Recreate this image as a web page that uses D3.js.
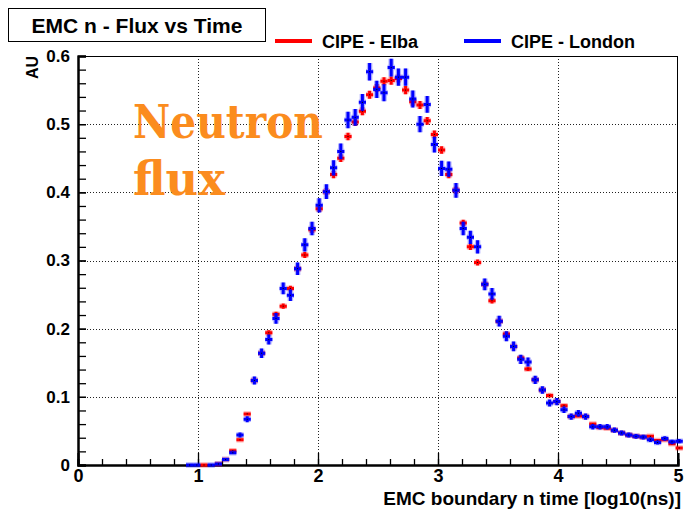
<!DOCTYPE html>
<html>
<head>
<meta charset="utf-8">
<script src="https://cdn.jsdelivr.net/npm/d3@7"></script>
<style>
  html, body { margin: 0; padding: 0; background: #fff; }
  svg { display: block; }
</style>
</head>
<body>
<svg id="chart" width="684" height="511"></svg>
<script>
// ---- data (bin centres in log10(ns), values in AU) ----
const binCenters = [0.93,0.99,1.05,1.11,1.17,1.23,1.29,1.35,1.41,1.47,1.53,1.59,1.65,1.71,1.77,1.83,1.89,1.95,
  2.01,2.07,2.13,2.19,2.25,2.31,2.37,2.43,2.49,2.55,2.61,2.67,2.73,2.79,2.85,2.91,2.97,
  3.03,3.09,3.15,3.21,3.27,3.33,3.39,3.45,3.51,3.57,3.63,3.69,3.75,3.81,3.87,3.93,3.99,
  4.05,4.11,4.17,4.23,4.29,4.35,4.41,4.47,4.53,4.59,4.65,4.71,4.77,4.83,4.89,4.95,5.01];
const elba = [null,null,0,null,0.0015,0.008,0.021,0.037,0.075,0.124,0.164,0.194,0.221,0.233,0.259,0.288,0.308,0.345,
  0.376,0.401,0.426,0.450,0.482,0.503,0.519,0.543,0.553,0.563,0.564,0.567,0.550,0.533,0.528,0.505,0.485,
  0.462,0.426,0.403,0.355,0.320,0.297,0.265,0.241,0.211,0.192,0.174,0.157,0.141,0.125,0.110,0.102,0.093,
  0.087,0.071,0.072,0.071,0.060,0.055,0.054,0.051,0.047,0.044,0.042,0.041,0.042,0.036,0.037,0.031,0.025];
const london = [0,0,null,0,0.0015,0.008,0.018,0.044,0.067,0.124,0.164,0.184,0.215,0.259,0.249,0.288,0.323,0.347,
  0.381,0.401,0.436,0.460,0.506,0.510,0.532,0.577,0.551,0.546,0.583,0.569,0.569,0.537,0.500,0.529,0.470,
  0.435,0.434,0.403,0.347,0.334,0.320,0.265,0.251,0.211,0.189,0.174,0.155,0.151,0.125,0.110,0.091,0.093,
  0.081,0.071,0.076,0.071,0.056,0.056,0.056,0.051,0.047,0.044,0.042,0.041,0.037,0.033,0.039,0.034,0.035];
const binWidth = 0.06;
// statistical error scale (error ~ k * sqrt(value))
const elbaErrScale = 0.008;
const londonErrScale = 0.017;

const seriesNames = ["CIPE - Elba", "CIPE - London"];
const seriesColors = ["#ff0000", "#0000ff"];
const xMajorTicks = [0,1,2,3,4,5];
const xMinorTicks = d3.range(0, 5.0001, 0.2);
const yMajorTicks = [0,0.1,0.2,0.3,0.4,0.5,0.6];
const yMinorTicks = d3.range(0, 0.6001, 0.02);
const titleText = "EMC n - Flux vs Time";
const xTitle = "EMC boundary n time [log10(ns)]";
const yTitle = "AU";
const noteLines = ["Neutron", "flux"];

// ---- layout ----
const SANS = '"Liberation Sans", Arial, Helvetica, sans-serif';
const svg = d3.select("#chart");
const L = 78, R = 678, T = 56, B = 465;
const x = d3.scaleLinear().domain([0,5]).range([L,R]);
const y = d3.scaleLinear().domain([0,0.6]).range([B,T]);

function txt(sel, size) {
  return sel.style("font-family", SANS).style("font-weight", "bold").style("font-size", size + "px").attr("fill", "#000");
}

// grid
const grid = svg.append("g").attr("stroke","#222").attr("stroke-width",1).attr("stroke-dasharray","1,2");
grid.selectAll("line.gx").data(xMajorTicks.filter(d=>d>0&&d<5)).enter().append("line")
  .attr("x1",d=>Math.round(x(d))+0.5).attr("x2",d=>Math.round(x(d))+0.5).attr("y1",T).attr("y2",B);
grid.selectAll("line.gy").data(yMajorTicks.filter(d=>d>0&&d<0.6)).enter().append("line")
  .attr("y1",d=>Math.round(y(d))+0.5).attr("y2",d=>Math.round(y(d))+0.5).attr("x1",L).attr("x2",R);

// frame
svg.append("rect").attr("x",L+0.5).attr("y",T+0.5).attr("width",R-L-1).attr("height",B-T)
  .attr("fill","none").attr("stroke","#000").attr("stroke-width",1);

// axes
const xAxisMinor = d3.axisBottom(x).tickValues(xMinorTicks).tickSize(-6).tickFormat("");
const xAxisMajor = d3.axisBottom(x).tickValues(xMajorTicks).tickSize(-12).tickFormat(d3.format("d"));
const gxm = svg.append("g").attr("transform",`translate(0,${B})`).call(xAxisMinor);
const gx = svg.append("g").attr("transform",`translate(0,${B})`).call(xAxisMajor);
const yAxisMinor = d3.axisLeft(y).tickValues(yMinorTicks).tickSize(-8).tickFormat("");
const yAxisMajor = d3.axisLeft(y).tickValues(yMajorTicks).tickSize(-8).tickFormat(d=>d===0?"0":d3.format(".1f")(d));
const gym = svg.append("g").attr("transform",`translate(${L},0)`).call(yAxisMinor);
const gy = svg.append("g").attr("transform",`translate(${L},0)`).call(yAxisMajor);
[gxm,gx,gym,gy].forEach(g=>{
  g.selectAll(".domain").attr("stroke","#000").attr("stroke-width",2);
  g.selectAll(".tick line").attr("stroke","#000").attr("stroke-width",1.3);
});
txt(gx.selectAll(".tick text"), 18).attr("y", 4).attr("dy", "0.71em");
txt(gy.selectAll(".tick text"), 17).attr("x", -8);

// axis titles
txt(svg.append("text"), 19).attr("x",681).attr("y",505).attr("text-anchor","end").text(xTitle);
txt(svg.append("text"), 16).attr("transform",`translate(38,${T}) rotate(-90)`).attr("text-anchor","end").text(yTitle);

// data points with error bars
function drawSeries(vals, errScale, color) {
  const g = svg.append("g");
  const pts = binCenters.map((c,i)=>({c, v: vals[i]})).filter(d=>d.v!==null);
  const pathFor = d => {
    const e = errScale*Math.sqrt(d.v);
    let p = `M${x(d.c-binWidth/2)},${y(d.v)}H${x(d.c+binWidth/2)}`;
    if (e > 0) p += `M${x(d.c)},${y(d.v+e)}V${y(d.v-e)}`;
    return p;
  };
  g.selectAll("path.halo").data(pts).enter().append("path").attr("d",pathFor)
    .attr("fill","none").attr("stroke",color).attr("stroke-opacity",0.3).attr("stroke-width",5.5);
  g.selectAll("path.mark").data(pts).enter().append("path").attr("d",pathFor)
    .attr("fill","none").attr("stroke",color).attr("stroke-width",3);
  g.selectAll("rect.dot").data(pts).enter().append("rect")
    .attr("x",d=>x(d.c)-0.5).attr("y",d=>y(d.v)-0.5).attr("width",1).attr("height",1).attr("fill","#000");
}
drawSeries(elba, elbaErrScale, seriesColors[0]);
drawSeries(london, londonErrScale, seriesColors[1]);

// title box
svg.append("rect").attr("x",8.5).attr("y",8.5).attr("width",257).attr("height",33).attr("fill","#fff").attr("stroke","#000").attr("stroke-width",1);
txt(svg.append("text"), 21).attr("x",137).attr("y",33).attr("text-anchor","middle").text(titleText);

// legend
const legX = [275, 464];
seriesNames.forEach((n,i)=>{
  svg.append("line").attr("x1",legX[i]).attr("x2",legX[i]+37).attr("y1",41).attr("y2",41)
    .attr("stroke",seriesColors[i]).attr("stroke-width",4);
  txt(svg.append("text"), 18).attr("x",legX[i]+47).attr("y",48).text(n);
});

// annotation
const noteY = [138, 195];
const noteW = [190, 92];
noteLines.forEach((t,i)=>{
  svg.append("text").attr("x",133).attr("y",noteY[i])
    .style("font-family","'DejaVu Serif', serif").style("font-weight","bold").style("font-size","46px")
    .attr("fill","#fb8c1e").attr("textLength",noteW[i]).attr("lengthAdjust","spacingAndGlyphs").text(t);
});
</script>
</body>
</html>
